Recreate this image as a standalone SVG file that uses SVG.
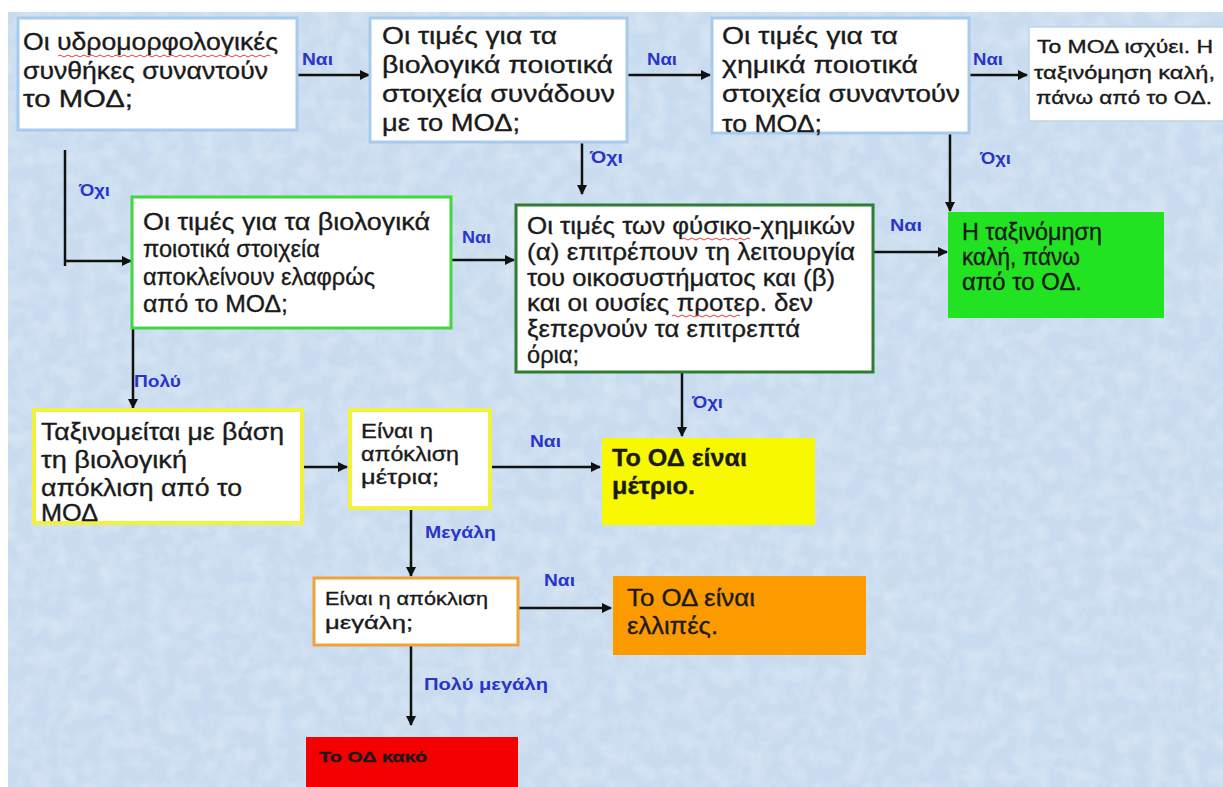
<svg xmlns="http://www.w3.org/2000/svg" width="1223" height="787" viewBox="0 0 1223 787">
<defs>
<style>
.t{font-family:"Liberation Sans",Arial,sans-serif;fill:#1a1a1a;stroke:#1a1a1a;stroke-width:0.35}
.big{font-size:24px}
.mid{font-size:18px}
.b8{font-size:20px}
.sm{font-size:19px}
.lbl{font-family:"Liberation Sans",Arial,sans-serif;font-size:16px;font-weight:bold;fill:#2a35c8}
.cn{stroke:#111;stroke-width:2.5;fill:none}
.wave{stroke:#e0403a;stroke-width:1;fill:none}
</style>
<marker id="ah" viewBox="0 0 10 10" refX="9" refY="5" markerWidth="4" markerHeight="4" orient="auto" markerUnits="strokeWidth">
<path d="M0,0 L10,5 L0,10 z" fill="#111"/>
</marker>
<filter id="tex" x="0" y="0" width="100%" height="100%">
<feTurbulence type="fractalNoise" baseFrequency="0.06" numOctaves="3" seed="4"/>
<feColorMatrix type="matrix" values="0 0 0 0 1  0 0 0 0 1  0 0 0 0 1  0 0 0 0.9 -0.35"/>
</filter>
</defs>

<rect x="0" y="0" width="1223" height="787" fill="#ffffff"/>
<rect x="8" y="12" width="1215" height="775" fill="#c9dcef"/>
<rect x="8" y="12" width="1215" height="775" filter="url(#tex)" opacity="0.6"/>

<g id="connectors">
<line class="cn" x1="297" y1="75" x2="369" y2="75" marker-end="url(#ah)"/>
<line class="cn" x1="627" y1="75" x2="710" y2="75" marker-end="url(#ah)"/>
<line class="cn" x1="969" y1="75" x2="1027" y2="75" marker-end="url(#ah)"/>
<line class="cn" x1="582" y1="134" x2="582" y2="194" marker-end="url(#ah)"/>
<line class="cn" x1="950" y1="133" x2="950" y2="211" marker-end="url(#ah)"/>
<polyline class="cn" points="65,150 65,266"/>
<line class="cn" x1="64" y1="261" x2="131" y2="261" marker-end="url(#ah)"/>
<line class="cn" x1="451" y1="260" x2="514" y2="260" marker-end="url(#ah)"/>
<line class="cn" x1="873" y1="252" x2="947" y2="252" marker-end="url(#ah)"/>
<line class="cn" x1="133" y1="328" x2="133" y2="408" marker-end="url(#ah)"/>
<line class="cn" x1="682" y1="373" x2="682" y2="436" marker-end="url(#ah)"/>
<line class="cn" x1="302" y1="467" x2="347" y2="467" marker-end="url(#ah)"/>
<line class="cn" x1="490" y1="467" x2="600" y2="467" marker-end="url(#ah)"/>
<line class="cn" x1="411" y1="508" x2="411" y2="576" marker-end="url(#ah)"/>
<line class="cn" x1="518" y1="608" x2="611" y2="608" marker-end="url(#ah)"/>
<line class="cn" x1="411" y1="645" x2="411" y2="725" marker-end="url(#ah)"/>
<text class="lbl" x="302" y="65" textLength="31" lengthAdjust="spacingAndGlyphs">Ναι</text>
<text class="lbl" x="647" y="65" textLength="30" lengthAdjust="spacingAndGlyphs">Ναι</text>
<text class="lbl" x="973" y="65" textLength="30" lengthAdjust="spacingAndGlyphs">Ναι</text>
<text class="lbl" x="590" y="163" textLength="33" lengthAdjust="spacingAndGlyphs">Όχι</text>
<text class="lbl" x="980" y="164" textLength="31" lengthAdjust="spacingAndGlyphs">Όχι</text>
<text class="lbl" x="79" y="196" textLength="31" lengthAdjust="spacingAndGlyphs">Όχι</text>
<text class="lbl" x="462" y="243" textLength="29" lengthAdjust="spacingAndGlyphs">Ναι</text>
<text class="lbl" x="890" y="231" textLength="32" lengthAdjust="spacingAndGlyphs">Ναι</text>
<text class="lbl" x="134" y="387" textLength="47" lengthAdjust="spacingAndGlyphs">Πολύ</text>
<text class="lbl" x="692" y="408" textLength="31" lengthAdjust="spacingAndGlyphs">Όχι</text>
<text class="lbl" x="530" y="447" textLength="31" lengthAdjust="spacingAndGlyphs">Ναι</text>
<text class="lbl" x="425" y="538" textLength="71" lengthAdjust="spacingAndGlyphs">Μεγάλη</text>
<text class="lbl" x="544" y="586" textLength="31" lengthAdjust="spacingAndGlyphs">Ναι</text>
<text class="lbl" x="424" y="690" textLength="124" lengthAdjust="spacingAndGlyphs">Πολύ μεγάλη</text>
</g>

<g id="n1">
<rect x="18" y="18" width="279" height="112" fill="#fff" stroke="#a8caec" stroke-width="3"/>
<text class="t big" x="23" y="50" textLength="255" lengthAdjust="spacingAndGlyphs">Οι υδρομορφολογικές</text>
<text class="t big" x="23" y="79" textLength="245" lengthAdjust="spacingAndGlyphs">συνθήκες συναντούν</text>
<text class="t big" x="23" y="107" textLength="110" lengthAdjust="spacingAndGlyphs">το ΜΟΔ;</text>
<path class="wave" d="M58,56 q2,-2 4,0 t4,0 t4,0 t4,0 t4,0 t4,0 t4,0 t4,0 t4,0 t4,0 t4,0 t4,0 t4,0 t4,0 t4,0 t4,0 t4,0 t4,0 t4,0 t4,0 t4,0 t4,0 t4,0 t4,0 t4,0 t4,0 t4,0 t4,0 t4,0 t4,0 t4,0 t4,0 t4,0 t4,0 t4,0 t4,0 t4,0 t4,0 t4,0 t4,0 t4,0 t4,0 t4,0 t4,0 t4,0 t4,0 t4,0 t4,0 t4,0 t4,0 t4,0 t4,0 t4,0"/>
</g>

<g id="n2">
<rect x="370" y="18" width="257" height="124" fill="#fff" stroke="#a8caec" stroke-width="3"/>
<text class="t big" x="382" y="44" textLength="175" lengthAdjust="spacingAndGlyphs">Οι τιμές για τα</text>
<text class="t big" x="382" y="73" textLength="231" lengthAdjust="spacingAndGlyphs">βιολογικά ποιοτικά</text>
<text class="t big" x="382" y="102" textLength="233" lengthAdjust="spacingAndGlyphs">στοιχεία συνάδουν</text>
<text class="t big" x="382" y="131" textLength="138" lengthAdjust="spacingAndGlyphs">με το ΜΟΔ;</text>
</g>

<g id="n3">
<rect x="712" y="18" width="257" height="115" fill="#fff" stroke="#a8caec" stroke-width="3"/>
<text class="t big" x="722" y="44" textLength="176" lengthAdjust="spacingAndGlyphs">Οι τιμές για τα</text>
<text class="t big" x="722" y="73" textLength="196" lengthAdjust="spacingAndGlyphs">χημικά ποιοτικά</text>
<text class="t big" x="722" y="102" textLength="238" lengthAdjust="spacingAndGlyphs">στοιχεία συναντούν</text>
<text class="t big" x="722" y="132" textLength="100" lengthAdjust="spacingAndGlyphs">το ΜΟΔ;</text>
</g>

<g id="n4">
<rect x="1029" y="27" width="200" height="94" fill="#fff" stroke="#bdd3e8" stroke-width="1.5"/>
<text class="t mid" x="1037" y="53" textLength="176" lengthAdjust="spacingAndGlyphs">Το ΜΟΔ ισχύει. Η</text>
<text class="t mid" x="1034" y="79" textLength="181" lengthAdjust="spacingAndGlyphs">ταξινόμηση καλή,</text>
<text class="t mid" x="1036" y="104" textLength="176" lengthAdjust="spacingAndGlyphs">πάνω από το ΟΔ.</text>
</g>

<g id="n5">
<rect x="132" y="197" width="319" height="131" fill="#fff" stroke="#3fd83f" stroke-width="3"/>
<text class="t big" x="143" y="230" textLength="287" lengthAdjust="spacingAndGlyphs">Οι τιμές για τα βιολογικά</text>
<text class="t big" x="143" y="257" textLength="177" lengthAdjust="spacingAndGlyphs">ποιοτικά στοιχεία</text>
<text class="t big" x="143" y="285" textLength="232" lengthAdjust="spacingAndGlyphs">αποκλείνουν ελαφρώς</text>
<text class="t big" x="143" y="312" textLength="145" lengthAdjust="spacingAndGlyphs">από το ΜΟΔ;</text>
</g>

<g id="n6">
<rect x="516" y="205" width="357" height="167" fill="#fff" stroke="#2e7d32" stroke-width="3"/>
<text class="t big" x="527" y="234" textLength="328" lengthAdjust="spacingAndGlyphs">Οι τιμές των φύσικο-χημικών</text>
<text class="t big" x="527" y="260" textLength="328" lengthAdjust="spacingAndGlyphs">(α) επιτρέπουν τη λειτουργία</text>
<text class="t big" x="527" y="286" textLength="308" lengthAdjust="spacingAndGlyphs">του οικοσυστήματος και (β)</text>
<text class="t big" x="527" y="311" textLength="286" lengthAdjust="spacingAndGlyphs">και οι ουσίες προτερ. δεν</text>
<text class="t big" x="527" y="337" textLength="273" lengthAdjust="spacingAndGlyphs">ξεπερνούν τα επιτρεπτά</text>
<text class="t big" x="527" y="363" textLength="52" lengthAdjust="spacingAndGlyphs">όρια;</text>
<path class="wave" d="M682,239 q2,-2 4,0 t4,0 t4,0 t4,0 t4,0 t4,0 t4,0 t4,0 t4,0 t4,0 t4,0 t4,0 t4,0 t4,0 t4,0 t4,0 t4,0"/>
<path class="wave" d="M672,316 q2,-2 4,0 t4,0 t4,0 t4,0 t4,0 t4,0 t4,0 t4,0 t4,0 t4,0 t4,0 t4,0 t4,0 t4,0 t4,0 t4,0 t4,0"/>
</g>

<g id="n7">
<rect x="948" y="212" width="216" height="106" fill="#22e322"/>
<text class="t big" x="962" y="240" textLength="140" lengthAdjust="spacingAndGlyphs">Η ταξινόμηση</text>
<text class="t big" x="962" y="265" textLength="118" lengthAdjust="spacingAndGlyphs">καλή, πάνω</text>
<text class="t big" x="962" y="290" textLength="120" lengthAdjust="spacingAndGlyphs">από το ΟΔ.</text>
</g>

<g id="n8">
<rect x="34" y="410" width="268" height="113" fill="#fff" stroke="#f2f23c" stroke-width="4"/>
<text class="t big" x="41" y="440" textLength="243" lengthAdjust="spacingAndGlyphs">Ταξινομείται με βάση</text>
<text class="t big" x="41" y="468" textLength="146" lengthAdjust="spacingAndGlyphs">τη βιολογική</text>
<text class="t big" x="41" y="496" textLength="201" lengthAdjust="spacingAndGlyphs">απόκλιση από το</text>
<text class="t big" x="41" y="521" textLength="57" lengthAdjust="spacingAndGlyphs">ΜΟΔ</text>
</g>

<g id="n9">
<rect x="350" y="410" width="140" height="98" fill="#fff" stroke="#f2f23c" stroke-width="4"/>
<text class="t b8" x="361" y="438" textLength="72" lengthAdjust="spacingAndGlyphs">Είναι η</text>
<text class="t b8" x="361" y="461" textLength="98" lengthAdjust="spacingAndGlyphs">απόκλιση</text>
<text class="t b8" x="361" y="484" textLength="78" lengthAdjust="spacingAndGlyphs">μέτρια;</text>
</g>

<g id="n10">
<rect x="602" y="438" width="213" height="87" fill="#f8f800"/>
<text class="t big" x="612" y="466" font-weight="bold" textLength="135" lengthAdjust="spacingAndGlyphs">Το ΟΔ είναι</text>
<text class="t big" x="612" y="494" font-weight="bold" textLength="83" lengthAdjust="spacingAndGlyphs">μέτριο.</text>
</g>

<g id="n11">
<rect x="314" y="578" width="204" height="67" fill="#fff" stroke="#f0a236" stroke-width="3"/>
<text class="t sm" x="325" y="605" textLength="163" lengthAdjust="spacingAndGlyphs">Είναι η απόκλιση</text>
<text class="t sm" x="325" y="629" textLength="88" lengthAdjust="spacingAndGlyphs">μεγάλη;</text>
</g>

<g id="n12">
<rect x="613" y="576" width="253" height="79" fill="#fb9b00"/>
<text class="t big" x="627" y="606" textLength="128" lengthAdjust="spacingAndGlyphs">Το ΟΔ είναι</text>
<text class="t big" x="627" y="634" textLength="91" lengthAdjust="spacingAndGlyphs">ελλιπές.</text>
</g>

<g id="n13">
<rect x="306" y="737" width="212" height="50" fill="#f50000"/>
<text class="t" x="319" y="762" font-size="15" font-weight="bold" textLength="108" lengthAdjust="spacingAndGlyphs">Το ΟΔ κακό</text>
</g>
</svg>
